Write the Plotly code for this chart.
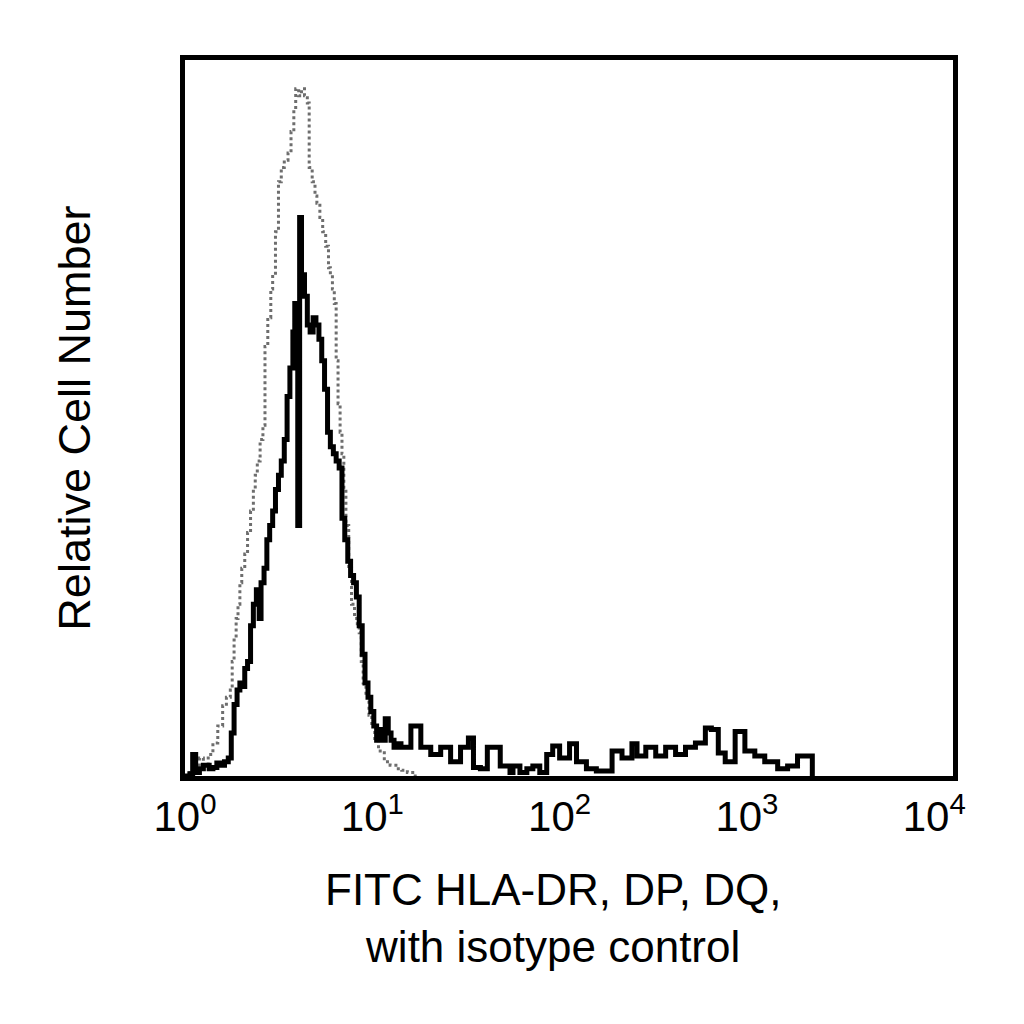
import plotly.graph_objects as go

# histogram channels as log10(intensity) and relative counts
black_log = [0.00, 0.026, 0.041, 0.057, 0.077, 0.098, 0.129, 0.149, 0.170, 0.190, 0.211, 0.231,
             0.247, 0.262, 0.278, 0.293, 0.303, 0.319, 0.334, 0.350, 0.365, 0.381, 0.396, 0.406,
             0.422, 0.437, 0.452, 0.468, 0.483, 0.499, 0.514, 0.530, 0.545, 0.560, 0.576, 0.586,
             0.602, 0.612, 0.622, 0.638, 0.653, 0.668, 0.684, 0.699, 0.715, 0.730, 0.745, 0.761,
             0.776, 0.792, 0.807, 0.823, 0.838, 0.853, 0.869, 0.884, 0.900, 0.915, 0.930, 0.946,
             0.961, 0.977, 0.992, 1.008, 1.023, 1.038, 1.054, 1.069, 1.085, 1.100, 1.116, 1.131,
             1.153, 1.206, 1.259, 1.312, 1.365, 1.418, 1.471, 1.513, 1.540, 1.577, 1.614, 1.683,
             1.735, 1.751, 1.788, 1.825, 1.857, 1.894, 1.931, 1.963, 2.000, 2.053, 2.090, 2.143,
             2.196, 2.280, 2.333, 2.386, 2.413, 2.460, 2.513, 2.566, 2.619, 2.672, 2.725, 2.778,
             2.810, 2.847, 2.884, 2.937, 2.989, 3.042, 3.095, 3.164, 3.217, 3.270, 3.349]
black_cnt = [0, 0.3, 3, 0.5, 1.0, 1.5, 1.0, 1.2, 1.8, 1.5, 2.0, 2.5,
             6, 10, 12, 13, 12.5, 15, 16, 21, 24, 26, 22, 27,
             29, 33, 35, 37, 40, 42, 44, 47, 53, 57, 62, 66,
             35, 78, 70, 67, 63, 62, 64, 63, 61, 58, 54, 48,
             46, 45, 44, 43, 36, 33, 30, 28, 27, 25, 21, 17,
             13, 11, 9, 7, 5, 6.5, 5, 8, 6, 5, 4, 4.5,
             4, 7, 4, 3, 4, 2, 4, 5.3, 1.2, 1, 4, 1.4,
             0.5, 1.4, 0.5, 1, 1.4, 0.5, 3, 4.2, 2.5, 4.5, 2, 1,
             0.7, 3.5, 2.5, 4.5, 2.8, 4, 2.8, 4, 3, 4, 4.6, 6.7,
             6.5, 3.2, 2, 6.2, 3.5, 2.8, 2, 1, 1.4, 2.8, 0]

iso_log = [0.00, 0.026, 0.057, 0.077, 0.098, 0.124, 0.149, 0.175, 0.201, 0.221, 0.242, 0.252,
           0.262, 0.273, 0.283, 0.293, 0.303, 0.319, 0.334, 0.350, 0.365, 0.375, 0.386, 0.401,
           0.416, 0.427, 0.442, 0.458, 0.468, 0.483, 0.499, 0.514, 0.530, 0.550, 0.566, 0.581,
           0.591, 0.607, 0.622, 0.638, 0.653, 0.663, 0.679, 0.694, 0.704, 0.720, 0.735, 0.751,
           0.766, 0.776, 0.787, 0.797, 0.807, 0.817, 0.828, 0.838, 0.848, 0.859, 0.874, 0.889,
           0.905, 0.920, 0.930, 0.941, 0.951, 0.966, 0.982, 0.997, 1.013, 1.033, 1.064, 1.095,
           1.126, 1.157, 1.187, 1.229]
iso_cnt = [0, 0.5, 1.2, 2.5, 1.5, 3, 4.6, 7, 9.8, 11, 12, 16,
           19, 22, 24, 27, 29, 31, 34, 37, 40, 42, 44, 47,
           49, 60, 64, 68, 70, 76, 83, 85, 86, 87, 90, 93,
           96, 95, 96, 95, 94, 85, 83, 81, 80, 78, 76, 74,
           71, 70, 68, 66, 58, 52, 48, 45, 40, 35, 29, 24,
           22, 21, 20, 16, 13, 11, 8.5, 7, 5, 3.5, 2, 1.5,
           1, 0.8, 0.5, 0]

tick_vals = [1, 10, 100, 1000, 10000]
tick_text = ["10<sup>0</sup>", "10<sup>1</sup>", "10<sup>2</sup>", "10<sup>3</sup>", "10<sup>4</sup>"]

fig = go.Figure()
# isotype control - grey dotted
fig.add_trace(go.Scatter(x=[10 ** v for v in iso_log], y=iso_cnt, mode="lines",
                         line=dict(color="#6e6e6e", width=3, dash="dot", shape="hv"),
                         showlegend=False))
# HLA-DR, DP, DQ - thick black
fig.add_trace(go.Scatter(x=[10 ** v for v in black_log], y=black_cnt, mode="lines",
                         line=dict(color="black", width=5, shape="hv"),
                         showlegend=False))

# axis runs a little past 10^4 like the instrument plot
fig.update_xaxes(type="log", range=[0, 4.1], tickvals=tick_vals, ticktext=tick_text,
                 ticks="", showgrid=False, zeroline=False,
                 showline=True, mirror=True, linecolor="black", linewidth=5,
                 tickfont=dict(size=42, color="black"))
fig.update_yaxes(range=[0, 100], showticklabels=False, ticks="", showgrid=False,
                 zeroline=False, showline=True, mirror=True, linecolor="black", linewidth=5)

fig.update_layout(
    width=1024, height=1024,
    margin=dict(l=177, r=79, t=52, b=256),
    paper_bgcolor="white", plot_bgcolor="white",
    font=dict(family="Liberation Sans, Arial, sans-serif", color="black"),
    annotations=[
        dict(text="FITC HLA-DR, DP, DQ,<br>with isotype control", xref="paper", yref="paper",
             x=0.479, y=-0.122, xanchor="center", yanchor="top", showarrow=False,
             font=dict(size=44)),
        dict(text="Relative Cell Number", xref="paper", yref="paper", x=-0.145, y=0.5,
             xanchor="center", yanchor="middle", textangle=-90, showarrow=False,
             font=dict(size=45)),
    ],
)

fig.write_html("out.html")
